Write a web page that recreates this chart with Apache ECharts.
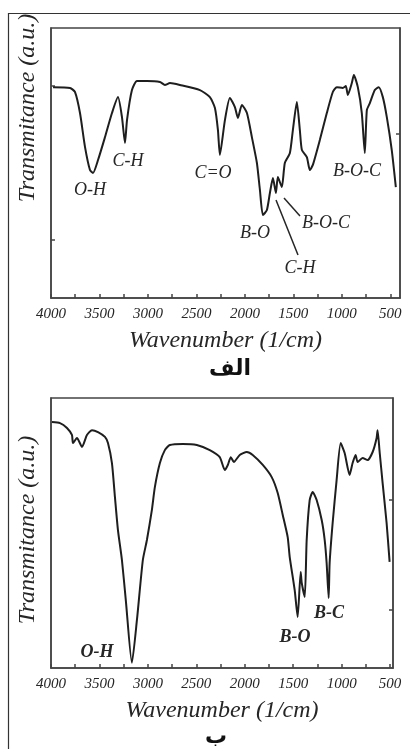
<!DOCTYPE html>
<html>
<head>
<meta charset="utf-8">
<script src="https://cdn.jsdelivr.net/npm/echarts@6/dist/echarts.min.js"></script>
<style>
  html, body { margin: 0; padding: 0; background: #fff; }
  #chart { width: 410px; height: 749px; }
</style>
</head>
<body>
<div id="chart"></div>
<script>
// panel الف : wavenumber (1/cm) and transmittance (a.u.)
const wnA = [3979, 3804, 3753, 3701, 3649, 3598, 3567, 3515, 3443, 3371, 3309, 3268, 3237, 3216, 3165, 3113,
  3010, 2876, 2825, 2773, 2670, 2464, 2361, 2309, 2278, 2258, 2206, 2155, 2103, 2072, 2031, 1979, 1928, 1876,
  1845, 1814, 1773, 1742, 1711, 1680, 1660, 1619, 1588, 1536, 1505, 1464, 1433, 1412, 1361, 1330, 1299, 1227,
  1155, 1093, 1052, 990, 959, 938, 897, 876, 835, 794, 763, 742, 711, 660, 619, 577, 536, 485, 443]
const tA = [78.1, 77.8, 76.3, 68.5, 55.9, 47.4, 46.3, 51.1, 59.6, 68.5, 74.4, 67.0, 57.4, 65.9, 77.0, 80.4,
  80.4, 80.0, 78.9, 79.6, 78.9, 77.0, 74.4, 70.4, 62.2, 53.0, 65.9, 74.1, 70.7, 66.7, 71.5, 68.5, 59.6, 50.0,
  40.0, 30.7, 32.6, 38.9, 44.4, 38.9, 44.8, 41.1, 50.0, 53.7, 62.2, 72.6, 62.2, 54.8, 52.2, 47.4, 49.3, 58.5,
  68.5, 76.3, 78.1, 77.8, 78.5, 75.2, 79.6, 82.6, 78.1, 68.5, 53.7, 69.6, 72.2, 77.0, 78.1, 74.4, 67.0, 54.8, 41.1]

// panel ب
const wnB = [3990, 3907, 3835, 3784, 3773, 3732, 3680, 3629, 3577, 3515, 3443, 3412, 3371, 3340, 3309, 3268,
  3227, 3165, 3113, 3052, 3010, 2959, 2928, 2876, 2825, 2773, 2639, 2495, 2361, 2258, 2206, 2175, 2144, 2113,
  2052, 1979, 1918, 1814, 1722, 1660, 1608, 1557, 1536, 1485, 1454, 1423, 1412, 1381, 1361, 1330, 1299, 1258,
  1206, 1175, 1155, 1134, 1124, 1093, 1052, 1010, 969, 918, 887, 856, 835, 784, 732, 680, 639, 629, 608, 577, 536, 505]
const tB = [91.1, 90.7, 88.9, 86.3, 83.3, 85.2, 81.9, 86.3, 88.1, 87.4, 85.6, 83.3, 75.9, 63.3, 51.1, 40.0,
  24.8, 1.9, 17.8, 40.0, 47.4, 58.5, 67.0, 75.9, 80.7, 82.6, 83.0, 82.6, 80.7, 78.1, 73.3, 75.2, 78.1, 76.3,
  78.9, 80.0, 78.9, 75.2, 70.7, 64.8, 56.7, 48.5, 41.1, 28.9, 18.9, 35.6, 31.5, 26.3, 47.4, 62.2, 65.2, 62.2,
  54.8, 47.4, 38.9, 25.9, 38.9, 53.7, 69.6, 83.3, 79.6, 71.5, 75.9, 78.9, 76.3, 77.8, 77.0, 80.0, 85.2, 88.1,
  80.0, 68.5, 53.7, 39.3]

const xTicks = [4000, 3500, 3000, 2500, 2000, 1500, 1000, 500]
const xMinor = [4000, 3750, 3500, 3250, 3000, 2750, 2500, 2250, 2000, 1750, 1500, 1250, 1000, 750, 500]

const SERIF = "'Liberation Serif', 'DejaVu Serif', serif"
const INK = '#262626'

const chart = echarts.init(document.getElementById('chart'))

function xAxisFor(gridIndex, min) {
  return {
    gridIndex,
    type: 'value',
    inverse: true,
    min,
    max: 4000,
    splitLine: { show: false },
    axisLine: { lineStyle: { color: '#444', width: 1.5 } },
    axisTick: { inside: true, length: 4, customValues: xMinor, lineStyle: { color: '#444', width: 1.5 } },
    axisLabel: {
      customValues: xTicks,
      formatter: v => String(v),
      margin: 9,
      color: INK,
      fontFamily: SERIF,
      fontStyle: 'italic',
      fontSize: 15
    },
    name: 'Wavenumber (1/cm)',
    nameLocation: 'middle',
    nameGap: 31,
    nameTextStyle: { color: INK, fontFamily: SERIF, fontStyle: 'italic', fontSize: 24 }
  }
}

function yAxisFor(gridIndex, position, ticks) {
  return {
    gridIndex,
    type: 'value',
    position,
    min: 0,
    max: 100,
    splitLine: { show: false },
    axisLabel: { show: false },
    axisLine: { show: true, lineStyle: { color: '#444', width: 1.5 } },
    axisTick: { inside: true, length: 4, customValues: ticks, lineStyle: { color: '#444', width: 1.5 } }
  }
}

const pair = (xs, ys) => xs.map((x, i) => [x, ys[i]])

const label = (text, x, y, bold) => ({
  type: 'text',
  x, y,
  style: {
    text,
    fill: INK,
    font: (bold ? 'italic bold ' : 'italic ') + '18px ' + SERIF,
    textAlign: 'center',
    textVerticalAlign: 'middle'
  }
})

const leader = (x1, y1, x2, y2) => ({
  type: 'line',
  shape: { x1, y1, x2, y2 },
  style: { stroke: INK, lineWidth: 1.5 }
})

const yTitle = (y) => ({
  type: 'text',
  x: 28, y,
  rotation: Math.PI / 2,
  style: {
    text: 'Transmitance (a.u.)',
    fill: INK,
    font: 'italic 24px ' + SERIF,
    textAlign: 'center',
    textVerticalAlign: 'middle'
  }
})

chart.setOption({
  backgroundColor: '#fff',
  animation: false,
  grid: [
    { left: 51, top: 28, width: 349, height: 270, show: true, borderColor: '#444', borderWidth: 1.5 },
    { left: 51, top: 398, width: 342, height: 270, show: true, borderColor: '#444', borderWidth: 1.5 }
  ],
  xAxis: [xAxisFor(0, 400), xAxisFor(1, 470)],
  yAxis: [
    yAxisFor(0, 'left', [21.5, 78.5]),
    yAxisFor(0, 'right', [61]),
    yAxisFor(1, 'left', []),
    yAxisFor(1, 'right', [21.5, 62.2])
  ],
  series: [
    {
      type: 'line',
      xAxisIndex: 0,
      yAxisIndex: 0,
      data: pair(wnA, tA),
      showSymbol: false,
      smooth: 0.2,
      lineStyle: { color: '#1e1e1e', width: 2 }
    },
    {
      type: 'line',
      xAxisIndex: 1,
      yAxisIndex: 2,
      data: pair(wnB, tB),
      showSymbol: false,
      smooth: 0.2,
      lineStyle: { color: '#1e1e1e', width: 2 }
    }
  ],
  graphic: [
    // outer frame
    { type: 'line', shape: { x1: 8, y1: 13.5, x2: 410, y2: 13.5 }, style: { stroke: '#333', lineWidth: 1.2 } },
    { type: 'line', shape: { x1: 8.5, y1: 13, x2: 8.5, y2: 749 }, style: { stroke: '#333', lineWidth: 1.2 } },
    yTitle(108),
    yTitle(530),
    label('O-H', 90, 190),
    label('C-H', 128, 161),
    label('C=O', 213, 173),
    label('B-O-C', 357, 171),
    label('B-O', 255, 233),
    label('B-O-C', 326, 223),
    label('C-H', 300, 268),
    leader(284, 198, 300, 216),
    leader(276, 200, 298, 255),
    label('O-H', 97, 652, true),
    label('B-O', 295, 637, true),
    label('B-C', 329, 613, true),
    {
      type: 'text', x: 230, y: 369,
      style: { text: 'الف', fill: '#111', font: 'bold 22px "DejaVu Sans"', textAlign: 'center', textVerticalAlign: 'middle' }
    },
    {
      type: 'text', x: 216, y: 737,
      style: { text: 'ب', fill: '#111', font: 'bold 22px "DejaVu Sans"', textAlign: 'center', textVerticalAlign: 'middle' }
    }
  ]
})
</script>
</body>
</html>
